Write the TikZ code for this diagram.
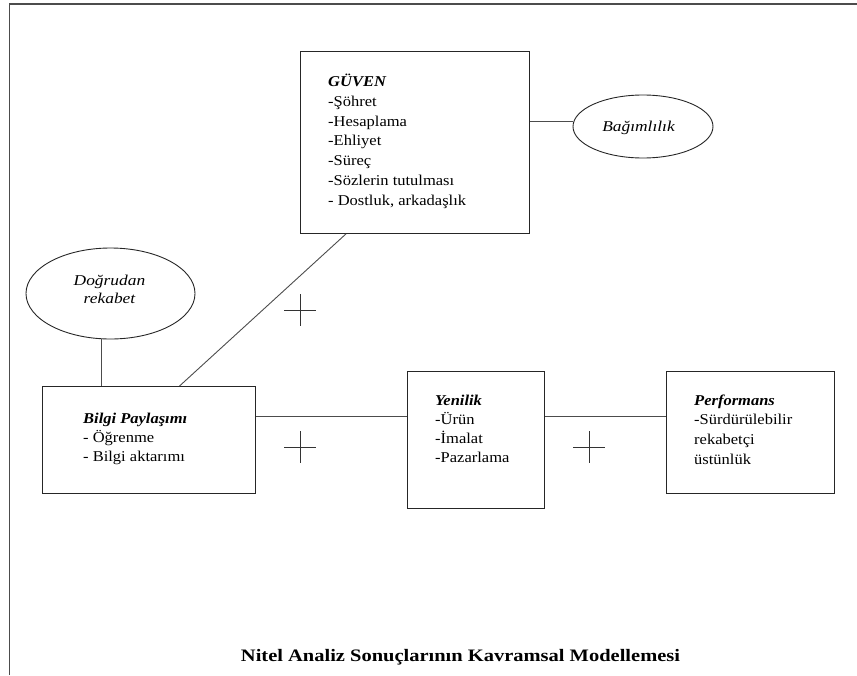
\documentclass[tikz,border=0pt]{standalone}
\usepackage{fontspec}
\setmainfont{Liberation Serif}[FakeStretch=1.1]
\newfontfamily\ovalfont{Liberation Serif}[FakeStretch=1.16]
\newfontfamily\capfont{Liberation Serif}[FakeStretch=1.17]
\usetikzlibrary{shapes.geometric,calc}
\begin{document}
\begin{tikzpicture}[x=1pt,y=-1pt,
  box/.style={draw=black!85, line width=0.9pt, rectangle, inner sep=0pt, anchor=north west},
  oval/.style={draw=black!85, line width=0.9pt, ellipse, inner sep=0pt},
  link/.style={draw=black!70, line width=0.9pt},
  frameline/.style={draw=black!70, line width=1.4pt},
  cross/.style={draw=black!80, line width=0.9pt},
  txt/.style={anchor=north west, inner sep=0pt, align=left},
]
\useasboundingbox (0,0) rectangle (857,675);

% page frame
\draw[frameline] (9.5,675) -- (9.5,4) -- (857,4);

% concept boxes
\node[box, minimum width=229pt, minimum height=182pt] (guven) at (300,51) {};
\node[box, minimum width=213pt, minimum height=107pt] (bilgi) at (42,386) {};
\node[box, minimum width=137pt, minimum height=137pt] (yen) at (407,371) {};
\node[box, minimum width=168pt, minimum height=122pt] (perf) at (666,371) {};

% ellipses
\node[oval, minimum width=140pt, minimum height=63pt] (bag) at (643,126.5) {};
\node[oval, minimum width=169pt, minimum height=91pt] (dog) at (110.5,293.5) {};

% box texts
\node[txt, font=\fontsize{15}{19.7}\selectfont] (guventxt) at (328,72.9)
  {\strut\textbf{\textit{GÜVEN}}\\-Şöhret\\-Hesaplama\\-Ehliyet\\-Süreç\\-Sözlerin tutulması\\- Dostluk, arkadaşlık};
\node[txt, font=\fontsize{15}{18.8}\selectfont] (bilgitxt) at (83,410.1)
  {\strut\textbf{\textit{Bilgi Paylaşımı}}\\- Öğrenme\\- Bilgi aktarımı};
\node[txt, font=\fontsize{15}{19.2}\selectfont] (yentxt) at (435,391.6)
  {\strut\textbf{\textit{Yenilik}}\\-Ürün\\-İmalat\\-Pazarlama};
\node[txt, font=\fontsize{15}{19.7}\selectfont] (perftxt) at (694,391.2)
  {\strut\textbf{\textit{Performans}}\\-Sürdürülebilir\\rekabetçi\\üstünlük};

% ellipse texts
\node[anchor=base, inner sep=0pt, font=\ovalfont\fontsize{15}{18}\selectfont\itshape] (bagtxt) at (638.5,131.5) {Bağımlılık};
\node[anchor=north, inner sep=0pt, align=center, font=\ovalfont\fontsize{15}{18}\selectfont\itshape] (dogtxt) at (109.5,272.4)
  {\strut Doğrudan\\rekabet};

% connectors
\coordinate (rowline) at (0,416.7);
\draw[link] (guven.east |- bag.176.5) -- (bag.176.5);
\draw[link] (dog.259) -- (dog.259 |- bilgi.north);
\draw[link] ($(bilgi.north west)!0.643!(bilgi.north east)$) -- ($(guven.south west)!0.2!(guven.south east)$);
\draw[link] (bilgi.east |- rowline) -- (yen.west |- rowline);
\draw[link] (yen.east |- rowline) -- (perf.west |- rowline);

% positive-effect marks
\foreach \cx/\cy in {300/310, 300/447, 589/447} {
  \draw[cross] (\cx-16,\cy) -- (\cx+16,\cy);
  \draw[cross] (\cx,\cy-16) -- (\cx,\cy+16);
}

% caption
\node[anchor=base, inner sep=0pt, font=\capfont\fontsize{17.5}{20}\selectfont\bfseries] (caption) at (460.5,661.7)
  {Nitel Analiz Sonuçlarının Kavramsal Modellemesi};
\end{tikzpicture}
\end{document}
